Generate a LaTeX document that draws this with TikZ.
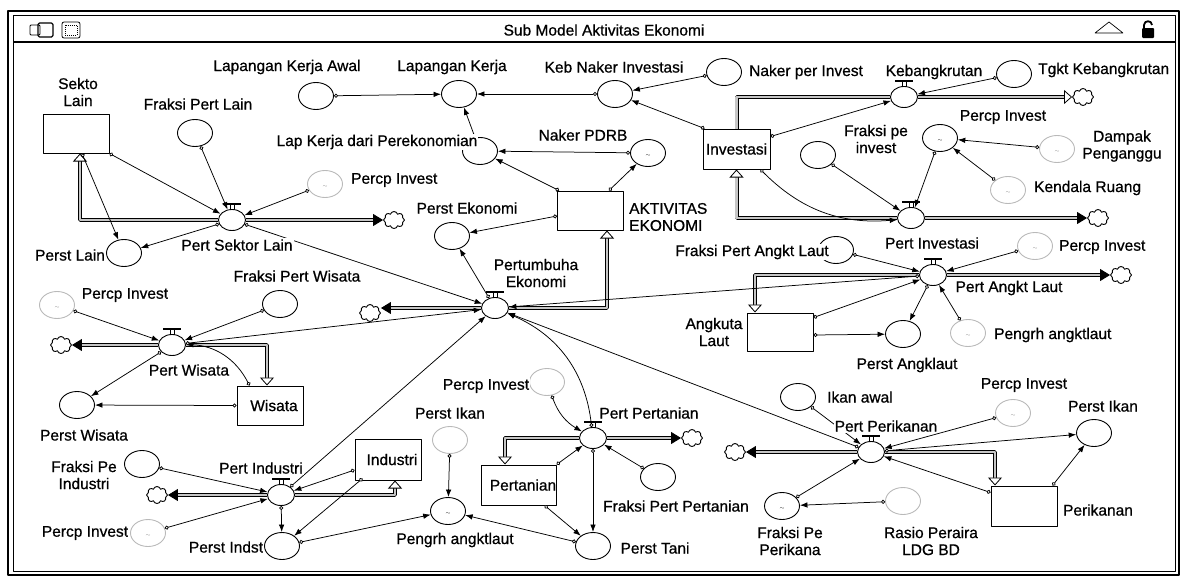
\documentclass[tikz,border=0pt]{standalone}
\usepackage{fontspec}
\setmainfont{Liberation Sans}[FakeBold=0.7]
\usetikzlibrary{arrows.meta, shapes.geometric, shapes.symbols, positioning}

\newcommand{\gf}{\raisebox{-6pt}{\tiny$\sim$}}

\begin{document}
\begin{tikzpicture}[x=1pt, y=-1pt,
                line join=bevel,
                every node/.style={font=\fontsize{15.5}{17}\selectfont},
                stock/.style={draw, line width=1pt, minimum width=66pt, minimum height=39pt, inner sep=0pt},
                aux/.style={ellipse, draw, line width=0.9pt, minimum width=35pt, minimum height=27pt, inner sep=0pt},
                gfn/.style={aux, draw=gray!55, text=gray},
                valve/.style={ellipse, draw, line width=0.9pt, minimum width=27pt, minimum height=21pt, inner sep=0pt},
                cld/.style={cloud, cloud puffs=8, draw, line width=0.9pt, minimum width=21pt, minimum height=17pt, inner sep=0pt},
                lbl/.style={fill=white, inner sep=1pt, align=center},
                link/.style={line width=0.75pt, {Circle[length=4pt, fill=white]}-{Latex[length=7.5pt, width=5.5pt]}},
                pipe/.style={line width=0.8pt, double=gray!45, double distance=2.4pt},
                tocloud/.style={pipe, -{Triangle[length=10pt, width=12pt]}},
                tostock/.style={pipe, -{Triangle[open, length=8pt, width=14pt, fill=white]}}
                ]
                \useasboundingbox (0,0) rectangle (1183,579);

                %% Window frame
                \draw[line width=2.5pt] (8,11) rectangle (1179,575);
                \draw[line width=0.8pt] (13,15) rectangle (1175,571);
                \draw[line width=1.2pt] (13,42) -- (1175,42);
                \node (title) at (604,30) {Sub Model Aktivitas Ekonomi};
                \draw[line width=0.8pt, rounded corners=1pt] (30,25) rectangle (40,35);
                \draw[line width=1.2pt, rounded corners=1.5pt] (38,23) rectangle (53,37);
                \draw[line width=0.8pt, rounded corners=2pt] (62,22) rectangle (80,38);
                \draw[line width=0.5pt, dash pattern=on 1pt off 1pt] (65,25) rectangle (77,35);
                \draw[line width=0.7pt] (1095,33) -- (1109,22) -- (1123,33) -- cycle;
                \fill[rounded corners=1pt] (1142,28) rectangle (1154,38);
                \draw[line width=1.8pt] (1144,28) -- (1144,25) .. controls (1144,20) and (1152,20) .. (1152,25);

                %% Stocks
                \node[stock] (sl) at (76,133.5) {};
                \node[stock] (ak) at (590.5,210.5) {};
                \node[stock, minimum width=67pt, minimum height=40pt] (inv) at (736.5,149) {Investasi};
                \node[stock, minimum height=38pt] (al) at (780,332) {};
                \node[stock] (wis) at (270,405.5) {\hspace*{8pt}Wisata};
                \node[stock, minimum height=41pt] (ind) at (388,459.5) {\hspace*{8pt}Industri};
                \node[stock, minimum height=40pt] (ptn) at (519,485) {\hspace*{8pt}Pertanian};
                \node[stock, minimum height=40pt] (prk) at (1024,506) {};

                %% Flows
                \foreach \v/\pos in {psl/{232,220}, pe/{495,308}, pw/{172,345}, pind/{281,495}, ppt/{593,438},
                                     ppk/{871,452}, pal/{933,275}, pinv/{911,218}, kb/{904,97}} {
                    \node[valve] (\v) at (\pos) {};
                }
                \foreach \c/\pos in {c1/{394,220}, c2/{370,313}, c3/{61,345}, c4/{157,495}, c5/{692,438},
                                     c6/{735,452}, c7/{1121,275}, c8/{1098,218}, c9/{1083,97}} {
                    \node[cld] (\c) at (\pos) {};
                }

                %% Converters
                \node[aux] (lka) at (316,96) {};
                \node[aux] (lk) at (459,94) {};
                \node[aux] (kni) at (615,94) {};
                \node[aux] (npi) at (724,72) {};
                \node[aux] (lkp) at (480,151) {};
                \node[aux] (npdrb) at (648,153) {\gf};
                \node[aux] (pek) at (452,236) {};
                \node[aux] (fpl) at (195,133) {};
                \node[gfn] (pisl) at (325,184) {\gf};
                \node[aux] (perstlain) at (124,253) {};
                \node[aux] (tk) at (1014,74) {};
                \node[aux] (fpi) at (818,155) {};
                \node[aux] (pinvi) at (940,138) {\gf};
                \node[gfn] (dmp) at (1057,149) {\gf};
                \node[gfn] (kr) at (1008,190) {\gf};
                \node[aux] (fpal) at (836,250) {};
                \node[gfn] (pial) at (1035,246) {\gf};
                \node[aux] (pak) at (903,334) {};
                \node[gfn] (pgr2) at (968,333) {\gf};
                \node[gfn] (piw) at (57,305) {\gf};
                \node[aux] (fpw) at (280,304) {};
                \node[aux] (pwis) at (77,405) {};
                \node[aux] (fpind) at (142,464) {};
                \node[gfn] (piind) at (148,533) {\gf};
                \node[aux] (pindst) at (282,546) {};
                \node[gfn] (pikan) at (450,440) {};
                \node[aux] (pgr1) at (448,511) {\gf};
                \node[gfn] (pipt) at (547,382) {};
                \node[aux] (fppt) at (658,477) {};
                \node[aux] (ptani) at (593,546) {};
                \node[aux] (ikan) at (798,397) {};
                \node[gfn] (pipk) at (1013,413) {\gf};
                \node[aux] (pikan2) at (1094,433) {};
                \node[aux] (fpk) at (782,506) {\gf};
                \node[gfn] (rasio) at (903,501) {};

                %% Pipes
                \draw[tostock] (psl.west) -| ([xshift=4pt]sl.south);
                \draw[tocloud] (psl.east) -- (c1.west);
                \draw[tocloud] (pe.west) -- (pe.west -| c2.east);
                \draw[tostock] (pe.east) -| ([xshift=16.5pt]ak.south);
                \draw[tocloud] (pw.west) -- (c3.east);
                \draw[tostock] (pw.east) -| ([xshift=-3pt]wis.north);
                \draw[tocloud] (pind.west) -- (c4.east);
                \draw[tostock] (pind.east) -| ([xshift=7pt]ind.south);
                \draw[tocloud] (ppt.east) -- (c5.west);
                \draw[tostock] (ppt.west) -| ([xshift=-14pt]ptn.north);
                \draw[tocloud] (ppk.west) -- (c6.east);
                \draw[tostock] (ppk.east) -| ([xshift=-29pt]prk.north);
                \draw[tocloud] (pal.east) -- (c7.west);
                \draw[tostock] (pal.west) -| ([xshift=-25pt]al.north);
                \draw[tocloud] (pinv.east) -- (c8.west);
                \draw[tostock] (pinv.west) -| (inv.south);
                \draw[pipe] (inv.north) |- (kb.west);
                \draw[tostock] (kb.east) -- (c9.west);

                % valve handles
                \foreach \v in {psl, pe, pw, pind, ppt, ppk, pal, pinv, kb} {
                    \draw[line width=0.6pt, fill=white] ([xshift=-2pt]\v.north) rectangle ([xshift=2pt, yshift=5pt]\v.north);
                    \draw[line width=1.6pt] ([xshift=-9pt, yshift=5pt]\v.north) -- ([xshift=9pt, yshift=5pt]\v.north);
                }

                %% Connectors
                \draw[link] (lka) -- (lk);
                \draw[link] (kni) -- (lk);
                \draw[link] (npi) -- (kni);
                \draw[link] ([xshift=2pt]inv.north west) -- (kni);
                \draw[link] (lkp) -- (lk);
                \draw[link] (npdrb) -- (lkp);
                \draw[link] ([xshift=2pt]ak.north west) -- (lkp);
                \draw[link] ([xshift=-15pt]ak.north east) -- (npdrb);
                \draw[link] ([yshift=-5.5pt]ak.west) -- (pek);
                \draw[link] (pe) -- (pek);
                \draw[link] (sl.south east) -- (psl);
                \draw[link] ([xshift=6pt]sl.south) -- (perstlain);
                \draw[link] (fpl) -- (psl);
                \draw[link] (pisl) -- (psl);
                \draw[link] (psl) -- (perstlain);
                \draw[link] (psl) -- (pe);
                \draw[link] (tk) -- (kb);
                \draw[link] ([yshift=-8pt]inv.north east) -- (kb);
                \draw[link] (fpi) -- (pinv);
                \draw[link] (pinvi) -- (pinv);
                \draw[link] (dmp) -- (pinvi);
                \draw[link] (kr) -- (pinvi);
                \draw[link] ([xshift=-10pt]inv.south east) to[bend right=25] (pinv);
                \draw[link] (fpal) -- (pal);
                \draw[link] (pial) -- (pal);
                \draw[link] ([yshift=-5pt]al.north east) -- (pal);
                \draw[link] ([yshift=-3pt]al.east) -- (pak);
                \draw[link] (pal) -- (pak);
                \draw[link] (pgr2) -- (pal);
                \draw[link] (pal) -- (pe);
                \draw[link] (piw) -- (pw);
                \draw[link] (fpw) -- (pw);
                \draw[link] (pw) -- (pwis);
                \draw[link] (wis.west) -- (pwis);
                \draw[link] ([xshift=13pt]wis.north west) to[bend right=30] (pw);
                \draw[link] (pw) -- (pe);
                \draw[link] (fpind) -- (pind);
                \draw[link] (piind) -- (pind);
                \draw[link] ([yshift=-10.5pt]ind.west) -- (pind);
                \draw[link] ([xshift=8pt, yshift=2pt]ind.south west) -- (pindst);
                \draw[link] (pind) -- (pindst);
                \draw[link] (pindst) -- (pgr1);
                \draw[link] (pikan) -- (pgr1);
                \draw[link] (ptani) -- (pgr1);
                \draw[link] (pind) -- (pe);
                \draw[link] (pipt) to[bend right=20] (ppt);
                \draw[link] (ptn.north east) -- (ppt);
                \draw[link] (fppt) -- (ppt);
                \draw[link] (ppt) -- (ptani);
                \draw[link] ([xshift=-12pt]ptn.south east) -- (ptani);
                \draw[link] (ppt) to[bend right=30] (pe);
                \draw[link] (ikan) -- (ppk);
                \draw[link] (pipk) -- (ppk);
                \draw[link] (ppk) -- (pikan2);
                \draw[link] ([xshift=-5pt]prk.north east) -- (pikan2);
                \draw[link] ([yshift=-7pt]prk.north west) -- (ppk);
                \draw[link] (fpk) -- (ppk);
                \draw[link] (rasio) -- (fpk);
                \draw[link] (ppk) -- (pe);

                %% Labels
                \node[lbl] (tlka) at (287,67) {Lapangan Kerja Awal};
                \node[lbl] (tlk) at (452,67) {Lapangan Kerja};
                \node[lbl] (tkni) at (614,67) {Keb Naker Investasi};
                \node[lbl, anchor=west] (tnpi) at (748,72) {Naker per Invest};
                \node[lbl] (tlkp) at (377,142) {Lap Kerja dari Perekonomian};
                \node[lbl] (tnpdrb) at (583,135) {Naker PDRB};
                \node[lbl, anchor=west, align=left] (tak) at (628,217) {AKTIVITAS\\EKONOMI};
                \node[lbl] (tpek) at (467,208) {Perst Ekonomi};
                \node[lbl] (tpe) at (536,273) {Pertumbuha\\Ekonomi};
                \node[lbl] (tsl) at (78,92) {Sekto\\Lain};
                \node[lbl] (tfpl) at (198,104) {Fraksi Pert Lain};
                \node[lbl, anchor=west] (tpisl) at (350,180) {Percp Invest};
                \node[lbl] (tpsl) at (237,245) {Pert Sektor Lain};
                \node[lbl] (tperstlain) at (70,255) {Perst Lain};
                \node[lbl] (tkb) at (934,72) {Kebangkrutan};
                \node[lbl, anchor=west] (ttk) at (1037,70) {Tgkt Kebangkrutan};
                \node[lbl] (tfpi) at (876,139) {Fraksi pe\\invest};
                \node[lbl] (tpinvi) at (1003,117) {Percp Invest};
                \node[lbl] (tdmp) at (1122,146) {Dampak\\Penganggu};
                \node[lbl, anchor=west] (tkr) at (1033,188) {Kendala Ruang};
                \node[lbl] (tpinv) at (932,243) {Pert Investasi};
                \node[lbl] (tfpal) at (752,252) {Fraksi Pert Angkt Laut};
                \node[lbl, anchor=west] (tpial) at (1058,247) {Percp Invest};
                \node[lbl] (tpal) at (1009,288) {Pert Angkt Laut};
                \node[lbl] (tal) at (714,332) {Angkuta\\Laut};
                \node[lbl] (tpak) at (907,365) {Perst Angklaut};
                \node[lbl, anchor=west] (tpgr2) at (993,335) {Pengrh angktlaut};
                \node[lbl] (tpiw) at (125,295) {Percp Invest};
                \node[lbl] (tfpw) at (297,276) {Fraksi Pert Wisata};
                \node[lbl] (tpw) at (189,370) {Pert Wisata};
                \node[lbl] (tpwis) at (84,435) {Perst Wisata};
                \node[lbl] (tfpind) at (84,475) {Fraksi Pe\\Industri};
                \node[lbl] (tpind) at (261,468) {Pert Industri};
                \node[lbl] (tpiind) at (85,533) {Percp Invest};
                \node[lbl] (tpindst) at (226,547) {Perst Indst};
                \node[lbl] (tpikan) at (450,413) {Perst Ikan};
                \node[lbl] (tpgr1) at (455,540) {Pengrh angktlaut};
                \node[lbl] (tpipt) at (486,386) {Percp Invest};
                \node[lbl] (tppt) at (649,413) {Pert Pertanian};
                \node[lbl] (tfppt) at (676,506) {Fraksi Pert Pertanian};
                \node[lbl] (tptani) at (655,548) {Perst Tani};
                \node[lbl, anchor=west] (tikan) at (826,397) {Ikan awal};
                \node[lbl] (tppk) at (886,426) {Pert Perikanan};
                \node[lbl] (tpipk) at (1024,385) {Percp Invest};
                \node[lbl] (tpikan2) at (1103,406) {Perst Ikan};
                \node[lbl] (tprk) at (1098,510) {Perikanan};
                \node[lbl] (tfpk) at (790,541) {Fraksi Pe\\Perikana};
                \node[lbl] (trasio) at (931,541) {Rasio Peraira\\LDG BD};
\end{tikzpicture}
\end{document}
